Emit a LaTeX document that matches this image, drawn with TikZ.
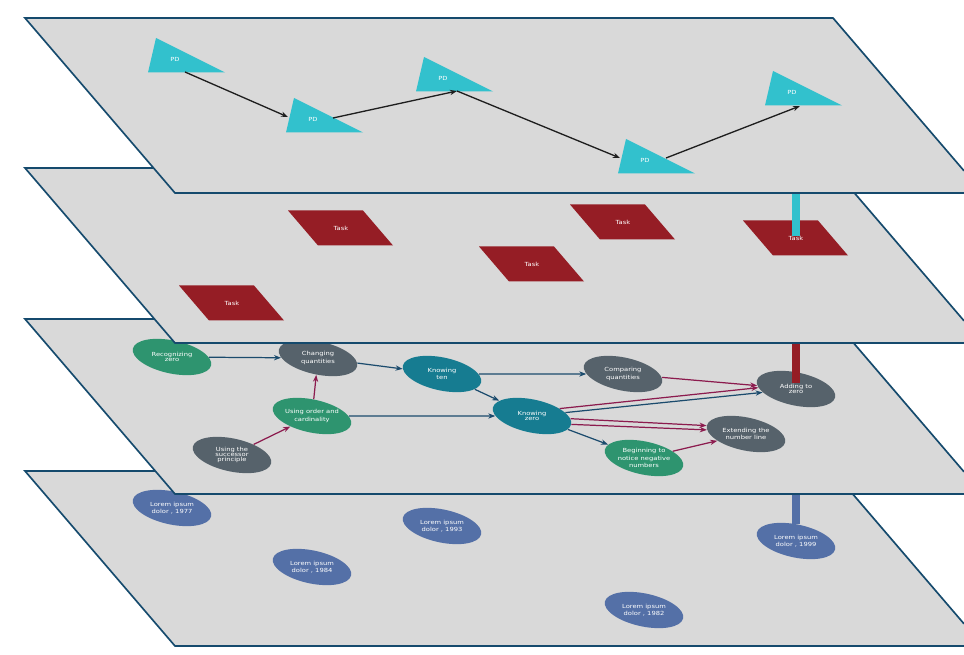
\documentclass[tikz,border=0pt]{standalone}
\usepackage{fontspec}
\newfontfamily\lblfont[FakeStretch=1.2]{DejaVu Sans}
\usetikzlibrary{shapes.geometric,arrows.meta,calc}
\pgfdeclarelayer{lvfour}
\pgfdeclarelayer{lvthree}
\pgfdeclarelayer{lvtwo}
\pgfdeclarelayer{lvone}
\pgfsetlayers{lvfour,lvthree,lvtwo,lvone,main}

\definecolor{planefill}{HTML}{D9D9D9}
\definecolor{planeline}{HTML}{154A6D}
\definecolor{pdcyan}{HTML}{32C1CD}
\definecolor{taskred}{HTML}{951D25}
\definecolor{cgreen}{HTML}{2E946F}
\definecolor{cgray}{HTML}{56626B}
\definecolor{cteal}{HTML}{167C91}
\definecolor{lorblue}{HTML}{5470A7}
\definecolor{arrblue}{HTML}{1B4B6D}
\definecolor{arrred}{HTML}{8C1B4E}
\definecolor{arrblack}{HTML}{1E1E1E}

% one tilted plane, shifted down by #1
\newcommand\drawplane[1]{%
  \fill[planefill] (25,18+#1) -- (833,18+#1) -- (964,170.8+#1) -- (964,193+#1) -- (175,193+#1) -- cycle;
  \draw[planeline,line width=0.95pt,line join=miter]
    (964,193+#1) -- (175,193+#1) -- (25,18+#1) -- (833,18+#1) -- (964,170.8+#1);}
% triangle marker with its label node
\newcommand\pdnode[2]{%
  \begin{scope}[shift={(#2)}]
    \fill[pdcyan] (-19,-21) -- (-27,13.5) -- (50,13.5) -- cycle;
    \node[lbl] (#1) at (0,0) {PD};
  \end{scope}}
% slanted task box with its label node
\newcommand\tasknode[2]{%
  \begin{scope}[shift={(#2)}]
    \fill[taskred] (-53,-17.5) -- (22,-17.5) -- (52,17.5) -- (-23,17.5) -- cycle;
    \node[lbl] (#1) at (0,0) {Task};
  \end{scope}}
% tilted ellipse plus upright text
\newcommand\conceptnode[4]{%
  \node[ell,fill=#2] (#1) at (#3) {};
  \node[lbl] (#1-t) at (#1.center) {#4};}

\begin{document}
\begin{tikzpicture}[x=0.02cm,y=-0.02cm,
  lbl/.style={text=white,font=\lblfont\fontsize{3.2}{2.7}\selectfont,align=center,inner sep=0pt},
  ell/.style={ellipse,minimum width=1.6cm,minimum height=0.66cm,inner sep=0pt,rotate=-12},
  blk/.style={draw=arrblack,line width=0.75pt,-{Stealth[length=4pt,width=3pt]}},
  barr/.style={draw=arrblue,line width=0.7pt,-{Stealth[length=4pt,width=3pt]}},
  rarr/.style={draw=arrred,line width=0.7pt,-{Stealth[length=4pt,width=3pt]}},
  bar/.style={line width=4.5pt}]
\useasboundingbox (0,0) rectangle (964,655);

% ---------- top plane: PD markers ----------
\begin{pgfonlayer}{lvone}
  \drawplane{0}
  \pdnode{pd1}{175,59}
  \pdnode{pd2}{313,119}
  \pdnode{pd3}{443,78}
  \pdnode{pd4}{645,160}
  \pdnode{pd5}{792,92}
  \draw[blk] ([shift={(10,13)}]pd1.center) -- ([shift={(-25,-2)}]pd2.center);
  \draw[blk] ([shift={(20,-1)}]pd2.center) -- ([shift={(14,13)}]pd3.center);
  \draw[blk] ([shift={(14,13)}]pd3.center) -- ([shift={(-25,-2)}]pd4.center);
  \draw[blk] ([shift={(21,-2)}]pd4.center) -- ([shift={(8,14)}]pd5.center);
\end{pgfonlayer}

% ---------- second plane: tasks ----------
\begin{pgfonlayer}{lvtwo}
  \drawplane{150}
  \tasknode{task1}{232,303}
  \tasknode{task2}{341,228}
  \tasknode{task3}{532,264}
  \tasknode{task4}{623,222}
  \tasknode{task5}{796,238}
  \draw[bar,pdcyan] ([shift={(0,-2)}]task5.center) -- (task5.center |- pd5.center);
\end{pgfonlayer}

% ---------- third plane: concept map ----------
\begin{pgfonlayer}{lvthree}
  \drawplane{301}
  \conceptnode{rz}{cgreen}{172,357}{Recognizing\\zero}
  \conceptnode{cq}{cgray}{318,358}{Changing\\quantities}
  \conceptnode{kt}{cteal}{442,374}{Knowing\\ten}
  \conceptnode{kz}{cteal}{532,416}{Knowing\\zero}
  \conceptnode{uoc}{cgreen}{312,416}{Using order and\\cardinality}
  \conceptnode{usp}{cgray}{232,455}{Using the\\successor\\principle}
  \conceptnode{cmp}{cgray}{623,374}{Comparing\\quantities}
  \conceptnode{az}{cgray}{796,389}{Adding to\\zero}
  \conceptnode{enl}{cgray}{746,434}{Extending the\\number line}
  \conceptnode{bnn}{cgreen}{644,458}{Beginning to\\notice negative\\numbers}
  \draw[barr] (rz) -- (cq);
  \draw[barr] (cq) -- (kt);
  \draw[barr] (kt) -- (cmp);
  \draw[barr] (kt) -- (kz);
  \draw[barr] (uoc) -- (kz);
  \draw[barr] (kz) -- (az);
  \draw[barr] (kz) -- (bnn);
  \draw[rarr] (usp) -- (uoc);
  \draw[rarr] (uoc) -- (cq);
  \draw[rarr] (cmp) -- (az);
  \draw[rarr] (kz.27) -- (az.190);
  \draw[rarr] (kz.8) -- (enl.180);
  \draw[rarr] (kz.0) -- (enl.186);
  \draw[rarr] (bnn) -- (enl);
  \draw[bar,taskred] ([shift={(0,-6)}]az.center) -- (task5.center);
\end{pgfonlayer}

% ---------- bottom plane: references ----------
\begin{pgfonlayer}{lvfour}
  \fill[white] (0,0) rectangle (964,655);
  \drawplane{453}
  \conceptnode{lorA}{lorblue}{172,508}{Lorem ipsum\\dolor , 1977}
  \conceptnode{lorB}{lorblue}{312,567}{Lorem ipsum\\dolor , 1984}
  \conceptnode{lorC}{lorblue}{442,526}{Lorem ipsum\\dolor , 1993}
  \conceptnode{lorD}{lorblue}{644,610}{Lorem ipsum\\dolor , 1982}
  \conceptnode{lorE}{lorblue}{796,541}{Lorem ipsum\\dolor , 1999}
  \draw[bar,lorblue] (lorE) -- (az.center);
\end{pgfonlayer}
\end{tikzpicture}
\end{document}
